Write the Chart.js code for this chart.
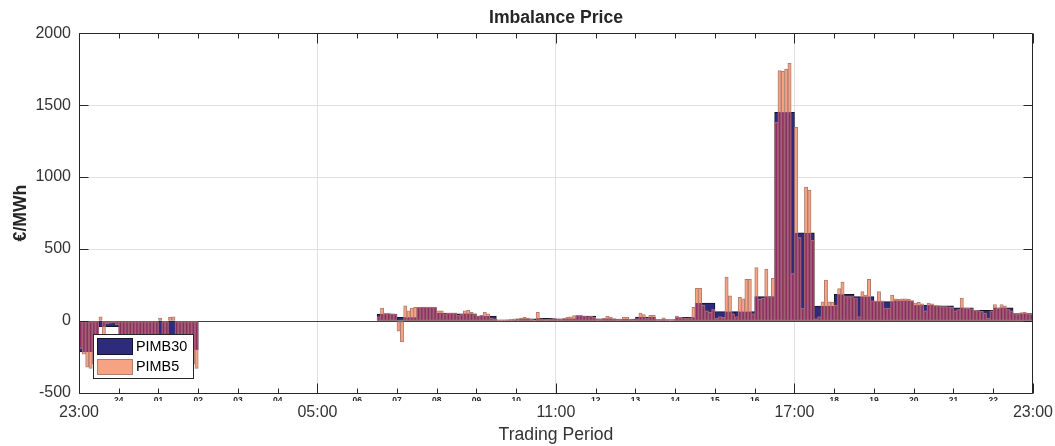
<!DOCTYPE html>
<html>
<head>
<meta charset="utf-8">
<title>Imbalance Price</title>
<script src="https://cdn.jsdelivr.net/npm/chart.js@4.4.1/dist/chart.umd.min.js"></script>
<style>
  html, body { margin: 0; padding: 0; background: #fff; }
  #chart { display: block; }
</style>
</head>
<body>
<canvas id="chart" width="1055" height="446"></canvas>
<script>
// Imbalance price, 23:00 -> 23:00, half-hour and 5-minute prices (EUR/MWh)

// hour tick labels (hours 1..23 after 23:00), blanks where a big label sits
const minorLabels = ["24", "01", "02", "03", "04", "", "06", "07", "08", "09", "10", "",
    "12", "13", "14", "15", "16", "", "18", "19", "20", "21", "22"]
const majorLabels = ["23:00", "05:00", "11:00", "17:00", "23:00"]
const yTicks = [-500, 0, 500, 1000, 1500, 2000]

// 48 half-hour periods (null = no price published)
const pimb30 = [
    -215, -40, -180, -190, -120, -200,
    null, null, null, null, null, null, null, null, null,
    48, 25, 95, 55, 50, 35, 8, 15, 18,
    15, 35, 15, 14, 28, 10, 25, 125, 65, 65, 170,
    1450, 612, 104, 185, 169, 135, 140, 110, 105, 92, 75, 92, 52,
]

// 288 five-minute periods, one row per half hour
const pimb5 = [
    -190, -230, -320, -330, -300, -250,
    30, -95, -20, -15, -10, -25,
    -170, -200, -180, -150, -190, -200,
    -200, -180, -210, -160, -200, -190,
    20, -180, -200, 25, 30, -220,
    -230, -250, -200, -260, -300, -330,
    null, null, null, null, null, null,
    null, null, null, null, null, null,
    null, null, null, null, null, null,
    null, null, null, null, null, null,
    null, null, null, null, null, null,
    null, null, null, null, null, null,
    null, null, null, null, null, null,
    null, null, null, null, null, null,
    null, null, null, null, null, null,
    30, 90, 55, 55, 50, 45,
    -70, -145, 105, 70, 90, 95,
    95, 97, 97, 97, 97, 95,
    70, 70, 50, 55, 55, 55,
    40, 45, 70, 75, 60, 45,
    35, 40, 60, 50, 20, 15,
    5, 3, 5, 8, 12, 15,
    10, 20, 25, 20, 10, 5,
    60, 15, 10, 12, 15, 20,
    10, 12, 20, 28, 30, 38,
    40, 40, 35, 30, 35, 25,
    10, 12, 20, 35, 28, 15,
    10, 12, 28, 25, 12, 8,
    15, 55, 45, 20, 40, 42,
    8, 12, 22, 8, 5, 6,
    35, 25, 22, 20, 22, 95,
    227, 227, 110, 70, 60, 80,
    20, 30, 25, 305, 175, 50,
    30, 165, 155, 290, 290, 50,
    372, 150, 160, 360, 170, 296,
    1380, 1740, 1735, 1750, 1790, 330,
    1345, 580, 90, 930, 910, 560,
    15, 30, 134, 284, 134, 130,
    110, 225, 270, 170, 170, 170,
    160, 30, 205, 180, 290, 140,
    140, 205, 140, 90, 90, 180,
    155, 150, 155, 155, 150, 140,
    125, 130, 120, 70, 125, 120,
    110, 108, 100, 100, 98, 95,
    70, 80, 160, 90, 88, 85,
    75, 72, 68, 55, 20, 70,
    115, 88, 115, 105, 80, 70,
    50, 48, 58, 60, 50, 48,
]

const navy = "#2e2b7d"
const navyEdge = "#141428"
const salmon = "#f5a383"
const salmonEdge = "#b07d70"
const overlap = "#8c2b5e"
const overlapEdge = "#9e5c76"
const axisColor = "#262626"
const textColor = "#333333"
const gridColor = "#e0e0e0"
const fontFamily = "'Liberation Sans', Arial, Helvetica, sans-serif"

// x in hours after 23:00, bar centred in its period
const pimb30Points = pimb30.map((v, i) => ({ x: (i + 0.5) / 2, y: v }))
const pimb5Points = pimb5.map((v, j) => ({ x: (j + 0.5) / 12, y: v }))

function barRect(bar) {
    const { x, y, base, width } = bar.getProps(["x", "y", "base", "width"], true)
    return { left: x - width / 2, top: Math.min(y, base), width: width, height: Math.abs(base - y) }
}

const decorations = {
    id: "decorations",
    afterDatasetsDraw(chart) {
        const ctx = chart.ctx
        const area = chart.chartArea
        const m30 = chart.getDatasetMeta(0)
        const m5 = chart.getDatasetMeta(1)

        // where 5-min bars sit over half-hour bars -> maroon
        ctx.save()
        ctx.beginPath()
        m30.data.forEach((bar) => {
            if (bar.skip) return
            const r = barRect(bar)
            ctx.rect(r.left, r.top, r.width, r.height)
        })
        ctx.clip()
        m5.data.forEach((bar) => {
            if (bar.skip) return
            const r = barRect(bar)
            ctx.fillStyle = overlapEdge
            ctx.fillRect(r.left, r.top, r.width, r.height)
            ctx.fillStyle = overlap
            ctx.fillRect(r.left + 1, r.top + 1, Math.max(r.width - 2, 0), Math.max(r.height - 2, 0))
        })
        ctx.restore()

        // box + inward ticks
        const xs = chart.scales.x
        const ys = chart.scales.y
        ctx.save()
        ctx.strokeStyle = axisColor
        ctx.lineWidth = 1
        const l = Math.round(area.left) + 0.5
        const r = Math.round(area.right) - 0.5
        const t = Math.round(area.top) + 0.5
        const b = Math.round(area.bottom) + 0.5
        ctx.beginPath()
        ctx.rect(l, t, r - l, b - t)
        yTicks.forEach((v) => {
            const py = Math.round(ys.getPixelForValue(v)) + 0.5
            ctx.moveTo(l, py); ctx.lineTo(l + 9, py)
            ctx.moveTo(r, py); ctx.lineTo(r - 9, py)
        })
        for (let h = 0; h <= 24; h++) {
            const px = Math.round(xs.getPixelForValue(h)) + 0.5
            const len = h % 6 === 0 ? 10 : 5
            ctx.moveTo(px, b); ctx.lineTo(px, b - len)
            ctx.moveTo(px, t); ctx.lineTo(px, t + len)
        }
        ctx.stroke()
        ctx.restore()
    },
    afterDraw(chart) {
        // legend in the lower-left corner of the plot
        const ctx = chart.ctx
        const area = chart.chartArea
        const lx = Math.round(area.left) + 14
        const ly = Math.round(area.bottom) - 59
        ctx.save()
        ctx.fillStyle = "#fff"
        ctx.fillRect(lx, ly, 100, 44)
        ctx.strokeStyle = axisColor
        ctx.lineWidth = 1
        ctx.strokeRect(lx + 0.5, ly + 0.5, 100, 44)

        ctx.fillStyle = navy
        ctx.fillRect(lx + 4, ly + 4, 36, 17)
        ctx.strokeStyle = navyEdge
        ctx.strokeRect(lx + 4.5, ly + 4.5, 35, 16)

        ctx.fillStyle = salmon
        ctx.fillRect(lx + 4, ly + 25, 36, 16)
        ctx.strokeStyle = salmonEdge
        ctx.strokeRect(lx + 4.5, ly + 25.5, 35, 15)

        ctx.fillStyle = "#000"
        ctx.font = "14.4px " + fontFamily
        ctx.textBaseline = "middle"
        ctx.textAlign = "left"
        ctx.fillText(chart.data.datasets[0].label, lx + 43, ly + 13)
        ctx.fillText(chart.data.datasets[1].label, lx + 43, ly + 33.5)
        ctx.restore()
    },
}

new Chart(document.getElementById("chart"), {
    type: "bar",
    data: {
        datasets: [
            {
                label: "PIMB30",
                data: pimb30Points,
                xAxisID: "x30",
                yAxisID: "y",
                backgroundColor: navy,
                borderColor: navyEdge,
                borderWidth: 1,
                borderSkipped: false,
                grouped: false,
                barPercentage: 1,
                categoryPercentage: 1,
                order: 2,
            },
            {
                label: "PIMB5",
                data: pimb5Points,
                xAxisID: "x",
                yAxisID: "y",
                backgroundColor: salmon,
                borderColor: salmonEdge,
                borderWidth: 1,
                borderSkipped: false,
                grouped: false,
                barPercentage: 1,
                categoryPercentage: 1,
                order: 1,
            },
        ],
    },
    options: {
        responsive: false,
        animation: false,
        devicePixelRatio: 1,
        layout: { padding: { left: 0, right: 22, top: 0, bottom: 0 } },
        plugins: {
            legend: { display: false },
            tooltip: { enabled: false },
            title: {
                display: true,
                fullSize: false,
                text: "Imbalance Price",
                color: axisColor,
                font: { family: fontFamily, size: 17.6, weight: "bold" },
                padding: { top: 8, bottom: 4 },
            },
        },
        scales: {
            x: {
                type: "linear",
                position: "bottom",
                min: 0,
                max: 24,
                offset: false,
                weight: 0,
                afterFit: (scale) => { scale.height = 8 },
                grid: {
                    offset: false,
                    drawTicks: false,
                    color: (c) => (c.tick && c.tick.value % 6 === 0 ? gridColor : "rgba(0,0,0,0)"),
                },
                border: { display: false },
                ticks: {
                    stepSize: 1,
                    autoSkip: false,
                    maxRotation: 0,
                    padding: 3,
                    color: axisColor,
                    font: { family: fontFamily, size: 8.5, weight: "bold" },
                    callback: (v) => (v >= 1 && v <= 23 ? minorLabels[v - 1] : ""),
                },
            },
            xMajor: {
                type: "linear",
                position: "bottom",
                min: 0,
                max: 24,
                offset: false,
                weight: 1,
                afterFit: (scale) => { scale.height = 45 },
                grid: { display: false, offset: false, drawTicks: false },
                border: { display: false },
                ticks: {
                    stepSize: 6,
                    autoSkip: false,
                    maxRotation: 0,
                    padding: 2,
                    color: textColor,
                    font: { family: fontFamily, size: 16 },
                    callback: (v) => majorLabels[v / 6],
                },
                title: {
                    display: true,
                    text: "Trading Period",
                    color: textColor,
                    font: { family: fontFamily, size: 17.6 },
                    padding: { top: 0, bottom: 0.5 },
                },
            },
            x30: {
                type: "linear",
                min: 0,
                max: 24,
                offset: false,
                display: false,
                grid: { offset: false },
            },
            y: {
                type: "linear",
                position: "left",
                min: -500,
                max: 2000,
                afterFit: (scale) => { scale.width = 79 },
                grid: {
                    drawTicks: false,
                    color: (c) => {
                        const v = c.tick ? c.tick.value : null
                        if (v === 0) return "#404040"
                        if (v === 500 || v === 1000 || v === 1500) return gridColor
                        return "rgba(0,0,0,0)"
                    },
                },
                border: { display: false },
                ticks: {
                    stepSize: 500,
                    padding: 8,
                    color: textColor,
                    font: { family: fontFamily, size: 16 },
                    callback: (v) => String(v),
                },
                title: {
                    display: true,
                    text: "€/MWh",
                    color: axisColor,
                    font: { family: fontFamily, size: 17.6, weight: "bold" },
                    padding: { top: 11, bottom: 0 },
                },
            },
        },
    },
    plugins: [decorations],
})
</script>
</body>
</html>
